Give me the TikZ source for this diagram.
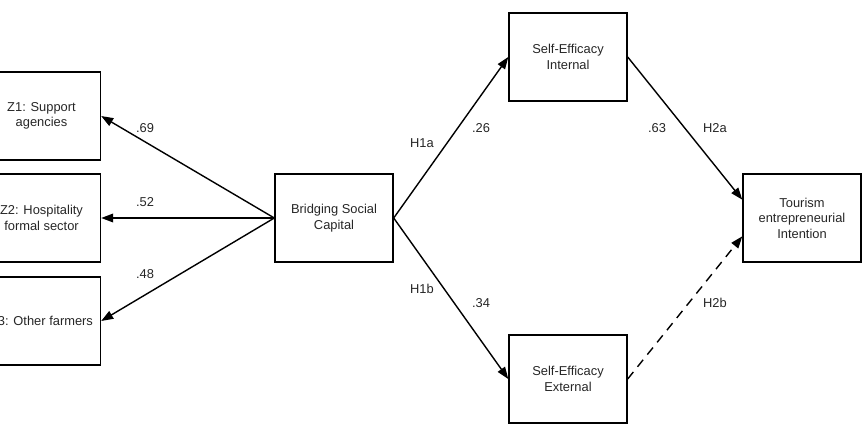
\documentclass[tikz,border=0pt]{standalone}
\usepackage{fontspec}
\setmainfont{Liberation Sans}
\usepackage{tikz}
\usetikzlibrary{calc, arrows.meta, positioning}

\begin{document}
\begin{tikzpicture}[
    var/.style={draw, line width=1.2pt, minimum width=3.54cm, minimum height=2.64cm,
                inner xsep=2pt, align=center, font=\fontsize{11}{13.3}\selectfont, text=black!85},
    lbl/.style={font=\fontsize{11}{13.3}\selectfont, text=black!85},
    arr/.style={-{Triangle[length=0.36cm, width=0.26cm]}, line width=1.2pt},
    dsh/.style={arr, dash pattern=on 0.27cm off 0.2cm}
  ]
    \clip (0,0) rectangle (25.98,12.9);

    \node[var] (sup)  at (1.245, 9.42) {Z1: Support\\agencies};
    \node[var] (hosp) at (1.245, 6.36) {Z2: Hospitality\\formal sector};
    \node[var] (farm) at (1.245, 3.27) {Z3: Other farmers};

    \node[var] (bsc)  at (10.02, 6.36) {Bridging Social\\Capital};

    \node[var] (sei)  at (17.04, 11.19) {Self-Efficacy\\Internal};
    \node[var] (see)  at (17.04, 1.53)  {Self-Efficacy\\External};

    \node[var] (tei)  at (24.06, 6.36) {Tourism\\entrepreneurial\\Intention};

    \draw[arr] (bsc.west) -- (sup.east);
    \draw[arr] (bsc.west) -- (hosp.east);
    \draw[arr] (bsc.west) -- (farm.east);
    \draw[arr] (bsc.east) -- (sei.west);
    \draw[arr] (bsc.east) -- (see.west);
    \draw[arr] (sei.east) -- ($(tei.west)!0.41!(tei.north west)$);
    \draw[dsh] (see.east) -- ($(tei.west)!0.41!(tei.south west)$);

    % path coefficients and hypotheses
    \node[lbl] (l69) at (4.35, 9.06) {.69};
    \node[lbl] (l52) at (4.35, 6.84) {.52};
    \node[lbl] (l48) at (4.35, 4.68) {.48};
    \node[lbl] (h1a) at (12.66, 8.61) {H1a};
    \node[lbl] (l26) at (14.43, 9.06) {.26};
    \node[lbl] (l63) at (19.71, 9.06) {.63};
    \node[lbl] (h2a) at (21.45, 9.06) {H2a};
    \node[lbl] (h1b) at (12.66, 4.23) {H1b};
    \node[lbl] (l34) at (14.43, 3.81) {.34};
    \node[lbl] (h2b) at (21.45, 3.81) {H2b};
  \end{tikzpicture}
\end{document}
